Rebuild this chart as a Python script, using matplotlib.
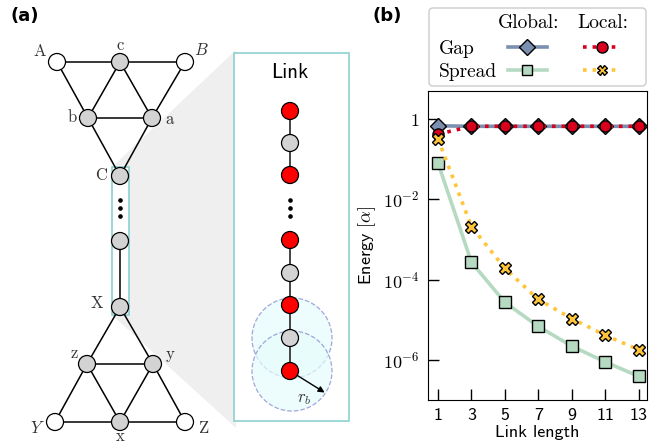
import numpy as np
import matplotlib
matplotlib.use("Agg")
import matplotlib.pyplot as plt
from matplotlib.patches import Circle, Rectangle, Polygon, FancyBboxPatch, FancyArrowPatch
from matplotlib.ticker import FixedLocator, FixedFormatter

plt.rcParams['mathtext.fontset'] = 'cm'
plt.rcParams['font.family'] = ['DejaVu Sans']
plt.rcParams['axes.unicode_minus'] = False

# ---- data for panel (b) ----
link_length = [1, 3, 5, 7, 9, 11, 13]
gap_global = [0.68, 0.66, 0.66, 0.66, 0.66, 0.66, 0.66]
gap_local = [0.42, 0.66, 0.66, 0.66, 0.66, 0.66, 0.66]
spread_global = [0.08, 2.7e-4, 2.7e-5, 6.8e-6, 2.2e-6, 8.9e-7, 3.9e-7]
spread_local = [0.32, 2.1e-3, 1.9e-4, 3.2e-5, 1.07e-5, 4.1e-6, 1.8e-6]
ytick_vals = [1, 1e-2, 1e-4, 1e-6]
ytick_labels = [r'$\mathsf{1}$', r'$\mathsf{10^{-2}}$', r'$\mathsf{10^{-4}}$', r'$\mathsf{10^{-6}}$']

# ---- schematic for panel (a), in pixel coordinates ----
graph_nodes = {
    'A': (57, 62, 'white'), 'c': (120, 62, 'gray'), 'B': (185, 62, 'white'),
    'b': (88, 118, 'gray'), 'a': (152, 118, 'gray'), 'C': (120, 176, 'gray'),
    'L': (120, 241, 'gray'), 'X': (120, 307, 'gray'),
    'z': (87, 364, 'gray'), 'y': (153, 364, 'gray'),
    'Y': (55, 422, 'white'), 'x': (120, 422, 'gray'), 'Z': (185, 422, 'white'),
}
graph_edges = [('A', 'c'), ('c', 'B'), ('A', 'b'), ('c', 'b'), ('c', 'a'), ('B', 'a'),
               ('b', 'a'), ('b', 'C'), ('a', 'C'), ('L', 'X'),
               ('X', 'z'), ('X', 'y'), ('z', 'y'), ('z', 'Y'), ('z', 'x'), ('y', 'x'),
               ('y', 'Z'), ('Y', 'x'), ('x', 'Z')]
node_labels = [
    (40, 51, 'A'), (120, 45, 'c'), (201, 50, r'$B$'),
    (72, 117, 'b'), (170, 119, 'a'), (101, 175, 'C'),
    (97, 303, 'X'), (74, 353, 'z'), (170, 354, 'y'),
    (37, 428, r'$Y$'), (120, 436, 'x'), (203, 428, 'Z'),
]
chain_y = [111, 143, 175, 240, 273, 305, 338, 371]
chain_col = ['red', 'gray', 'red', 'red', 'gray', 'red', 'gray', 'red']

fill_col = {'white': 'white', 'gray': '#d3d3d3', 'red': '#ff0000'}

fig = plt.figure(figsize=(6.54, 4.45), dpi=100)

bg = fig.add_axes([0, 0, 1, 1])
bg.set_xlim(0, 654)
bg.set_ylim(445, 0)
bg.axis('off')

# zoom wedge and boxes
bg.add_patch(Polygon([(112, 167), (236, 50), (236, 428), (112, 315)],
                     closed=True, facecolor='#efefef', edgecolor='none', zorder=1))
bg.add_patch(Rectangle((112, 167), 16.5, 148, facecolor='white',
                       edgecolor='#8ecfcf', lw=1.2, zorder=2))
bg.add_patch(Rectangle((234, 53), 115, 368, facecolor='white',
                       edgecolor='#8ecfcf', lw=1.2, zorder=2))

for n1, n2 in graph_edges:
    x1, y1, _ = graph_nodes[n1]
    x2, y2, _ = graph_nodes[n2]
    bg.plot([x1, x2], [y1, y2], color='black', lw=1.1, zorder=3)
for name, (x, y, c) in graph_nodes.items():
    bg.add_patch(Circle((x, y), 8.5, facecolor=fill_col[c], edgecolor='black', lw=0.9, zorder=4))
for x, y, s in node_labels:
    bg.text(x, y, s, fontsize=12, family='cmr10', ha='center', va='center',
            color='#333333', zorder=5)
bg.plot([120, 120, 120], [200, 208, 216], 'o', color='black', ms=2.3, zorder=5)

# link zoom box
bx = 290
bg.text(bx, 73, 'Link', fontsize=15, family='cmss10', ha='center', va='center', zorder=5)
for cy in [338, 371]:
    bg.add_patch(Circle((bx + 2, cy), 40, facecolor='#e6fcfc', alpha=0.7,
                        edgecolor='#7f82c8', ls='--', lw=0.9, zorder=3))
bg.plot([bx, bx], [111, 175], color='#444444', lw=1.4, zorder=3.5)
bg.plot([bx, bx], [240, 371], color='#444444', lw=1.4, zorder=3.5)
for cy, c in zip(chain_y, chain_col):
    bg.add_patch(Circle((bx, cy), 8.5, facecolor=fill_col[c], edgecolor='black', lw=0.9, zorder=4))
bg.plot([bx, bx, bx], [200, 208, 216], 'o', color='black', ms=2.3, zorder=5)
bg.add_patch(FancyArrowPatch((bx + 5, 374), (bx + 37, 394), arrowstyle='-|>',
                             mutation_scale=9, color='black', lw=1, zorder=5))
bg.text(bx + 14, 398, r'$r_b$', fontsize=12, ha='center', va='center', color='#333333', zorder=5)

bg.text(10, 16, '(a)', fontsize=13, fontweight='bold', ha='left', va='center')
bg.text(372, 16, '(b)', fontsize=13, fontweight='bold', ha='left', va='center')

# ---- panel (b) ----
ax = fig.add_axes([428 / 654, 45 / 445, 219 / 654, 309 / 445])
ax.set_yscale('log')
ax.plot(link_length, gap_global, color='#7b8fb0', lw=2.6, marker='D', ms=8,
        mfc='#7b8fb0', mec='black', mew=1, zorder=3)
ax.plot(link_length, gap_local, color='#d8001c', lw=2.6, ls=':', marker='o', ms=8,
        mfc='#d8001c', mec='black', mew=1, zorder=4)
ax.plot(link_length, spread_global, color='#b6dac1', lw=2.6, marker='s', ms=8,
        mfc='#b6dac1', mec='black', mew=1, zorder=3)
ax.plot(link_length, spread_local, color='#ffc438', lw=2.6, ls=':', marker='X', ms=8,
        mfc='#ffc438', mec='black', mew=1, zorder=4)
ax.set_xlim(0.4, 13.5)
ax.set_ylim(1e-7, 5)
ax.set_xticks(link_length)
ax.set_xticklabels([str(v) for v in link_length], family='cmss10')
ax.yaxis.set_major_locator(FixedLocator(ytick_vals))
ax.yaxis.set_major_formatter(FixedFormatter(ytick_labels))
ax.yaxis.set_minor_locator(FixedLocator([]))
ax.tick_params(direction='in', length=8, width=1, labelsize=13, pad=6)
ax.set_xlabel('Link length', fontsize=13, family='cmss10', labelpad=1)
ax.set_ylabel(r'Energy $[\alpha]$', fontsize=13, family='cmss10', labelpad=4)

# ---- custom legend ----
lax = fig.add_axes([428 / 654, (445 - 87) / 445, 219 / 654, 80 / 445])
lax.set_xlim(0, 219)
lax.set_ylim(80, 0)
lax.axis('off')
lax.add_patch(FancyBboxPatch((1, 1), 217, 78, boxstyle='round,pad=0,rounding_size=4',
                             facecolor='white', edgecolor='#cccccc', lw=1))
lax.text(101, 16, 'Global:', fontsize=14, family='cmr10', ha='center', va='center')
lax.text(175, 16, 'Local:', fontsize=14, family='cmr10', ha='center', va='center')
lax.text(11, 42, 'Gap', fontsize=14, family='cmr10', ha='left', va='center')
lax.text(11, 65, 'Spread', fontsize=14, family='cmr10', ha='left', va='center')
lax.plot([80, 119], [40, 40], color='#7b8fb0', lw=2.6)
lax.plot([99], [40], marker='D', ms=8, mfc='#7b8fb0', mec='black', mew=1)
lax.plot([155, 192], [40, 40], color='#d8001c', lw=2.6, ls=':')
lax.plot([174], [40], marker='o', ms=8, mfc='#d8001c', mec='black', mew=1)
lax.plot([80, 119], [63, 63], color='#b6dac1', lw=2.6)
lax.plot([99], [63], marker='s', ms=7, mfc='#b6dac1', mec='black', mew=1)
lax.plot([155, 192], [63, 63], color='#ffc438', lw=2.6, ls=':')
lax.plot([174], [63], marker='X', ms=7, mfc='#ffc438', mec='black', mew=1)

fig.savefig('out.png', dpi=100)
